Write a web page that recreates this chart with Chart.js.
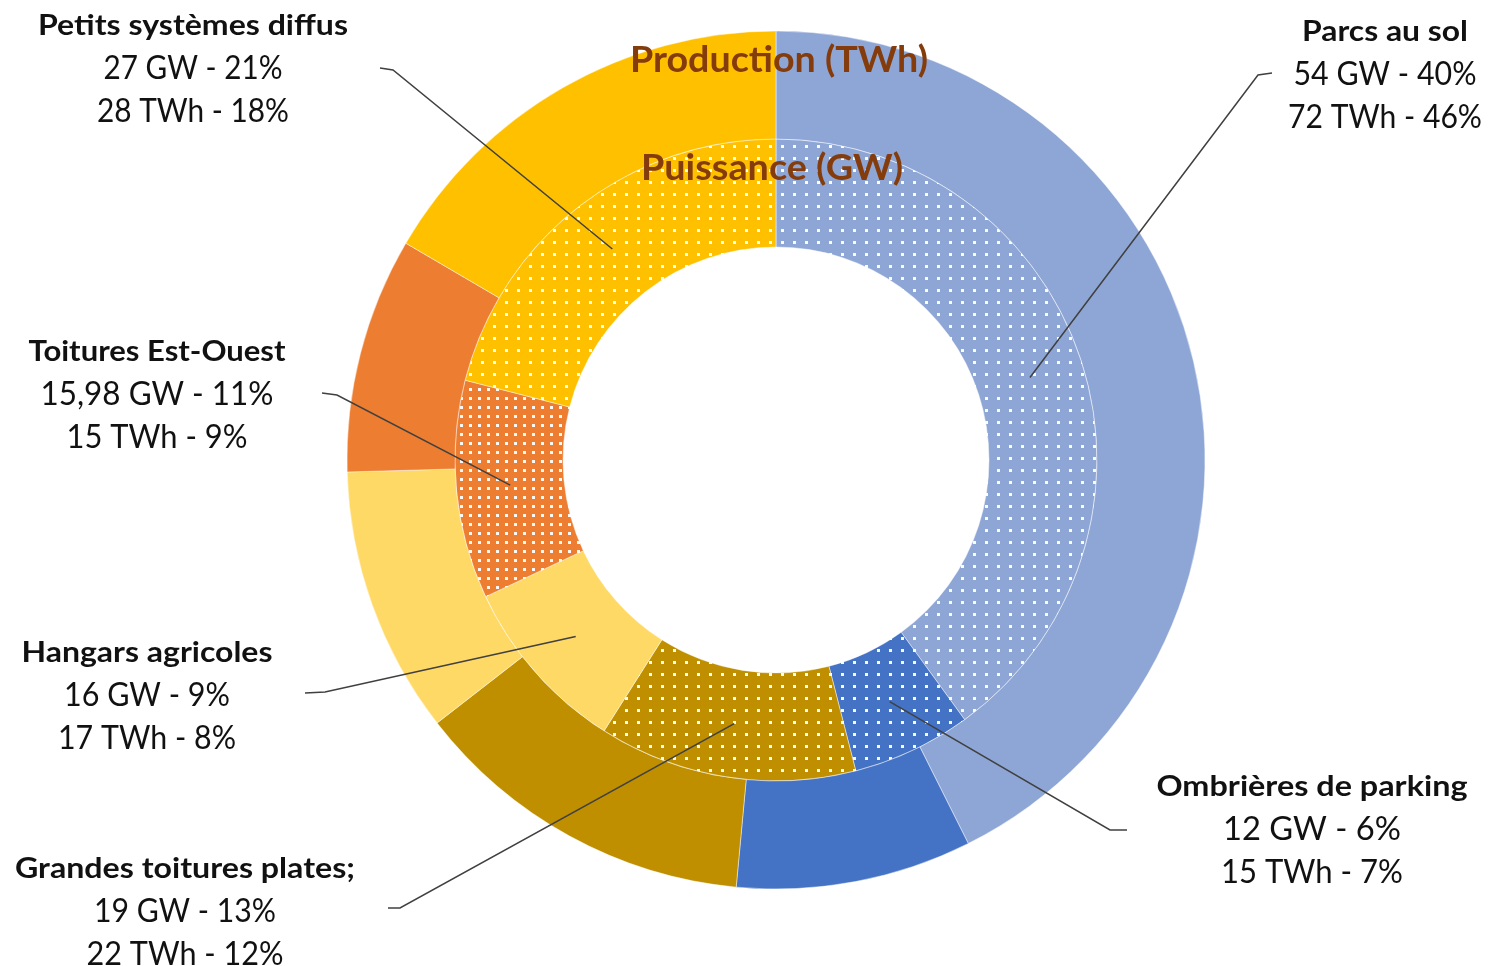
<!DOCTYPE html>
<html><head><meta charset="utf-8">
<script src="https://cdn.jsdelivr.net/npm/chart.js@4.4.0/dist/chart.umd.min.js"></script>
<style>html,body{margin:0;padding:0;background:#fff;}#wrap{width:1488px;height:966px;position:relative;overflow:hidden}</style>
</head><body><div id="wrap"><canvas id="c" width="1488" height="966"></canvas></div>
<script>
// ---- DATA ----
const categories = ['Parcs au sol','Ombrières de parking','Grandes toitures plates;','Hangars agricoles','Toitures Est-Ouest','Petits systèmes diffus'];
const gwValues = ['54','12','19','16','15,98','27'];
const gwPct = [40,6,13,9,11,21];
const twhValues = [72,15,22,17,15,28];
const twhPct = [46,7,12,8,9,18];
const ringTitles = ['Production (TWh)','Puissance (GW)'];

// ---- STYLE / LAYOUT ----
const colors = ['#8EA6D6','#4472C4','#BF8F00','#FFD966','#ED7D31','#FFC000'];
const dotStep = [12,12,12,0,9,12];
// label layout: title baseline position, target widths, leader start + elbow
const labelLayout = [
  {x:1385,y:41, w:[166,183,194], lead:[[1272,73],[1258,75]]},
  {x:1312,y:796,w:[311,178,182], lead:[[1127,830],[1110,830]]},
  {x:185, y:878,w:[340,182,197], lead:[[388,908],[400,908]]},
  {x:147, y:662,w:[251,166,178], lead:[[305,693],[325,692]]},
  {x:157, y:361,w:[257,233,181], lead:[[322,393],[337,395]]},
  {x:193, y:35, w:[310,179,192], lead:[[380,68],[393,70]]}
];
const titleLayout = [{x:779,y:72,w:298},{x:772,y:180,w:262}];

const canvas = document.getElementById('c');
const ctx = canvas.getContext('2d');

function dotPattern(color, step){
  if(!step) return color;
  const c = document.createElement('canvas'); c.width = step; c.height = step;
  const x = c.getContext('2d');
  x.fillStyle = color; x.fillRect(0,0,step,step);
  x.fillStyle = 'rgba(255,255,255,0.95)'; x.fillRect(1,1,3,3);
  return ctx.createPattern(c,'repeat');
}
const innerFill = colors.map((c,i)=>dotPattern(c, dotStep[i]));

function fitText(g, text, cx, by, target, font){
  g.save();
  g.font = font;
  const w = g.measureText(text).width;
  const sx = target ? target / w : 1;
  g.translate(cx, by);
  g.scale(sx, 1);
  g.textAlign = 'center';
  g.textBaseline = 'alphabetic';
  g.fillText(text, 0, 0);
  g.restore();
}

const labelsPlugin = {
  id:'labelsPlugin',
  afterDraw(chart){
    const g = chart.ctx;
    g.fillStyle = '#843C0C';
    ringTitles.forEach((t,i)=>{
      const L = titleLayout[i];
      fitText(g, t, L.x, L.y, L.w, 'bold 36px Lato');
    });
    const meta = chart.getDatasetMeta(1);
    g.save();
    g.strokeStyle = '#404040'; g.lineWidth = 1.5;
    categories.forEach((c,i)=>{
      const p = meta.data[i].tooltipPosition();
      const L = labelLayout[i].lead;
      g.beginPath();
      g.moveTo(L[0][0], L[0][1]);
      g.lineTo(L[1][0], L[1][1]);
      g.lineTo(p.x, p.y);
      g.stroke();
    });
    g.restore();
    categories.forEach((c,i)=>{
      const L = labelLayout[i];
      g.fillStyle = '#111';
      fitText(g, c, L.x, L.y, L.w[0], 'bold 28px Lato');
      fitText(g, gwValues[i] + ' GW - ' + gwPct[i] + '%', L.x, L.y + 44, L.w[1], '32px Lato');
      fitText(g, twhValues[i] + ' TWh - ' + twhPct[i] + '%', L.x, L.y + 87, L.w[2], '32px Lato');
    });
  }
};

new Chart(ctx, {
  type:'doughnut',
  data:{
    labels:categories,
    datasets:[
      {label:ringTitles[0], data:twhValues, backgroundColor:colors, borderWidth:1, borderColor:'rgba(255,255,255,0.45)'},
      {label:ringTitles[1], data:gwPct, backgroundColor:innerFill, borderWidth:1, borderColor:'rgba(255,255,255,0.45)'}
    ]
  },
  options:{
    responsive:false,
    animation:false,
    radius:429,
    cutout:'49.65%',
    layout:{padding:{left:64,right:0,top:0,bottom:46}},
    plugins:{legend:{display:false}, tooltip:{enabled:false}}
  },
  plugins:[labelsPlugin]
});
</script>
</body></html>
